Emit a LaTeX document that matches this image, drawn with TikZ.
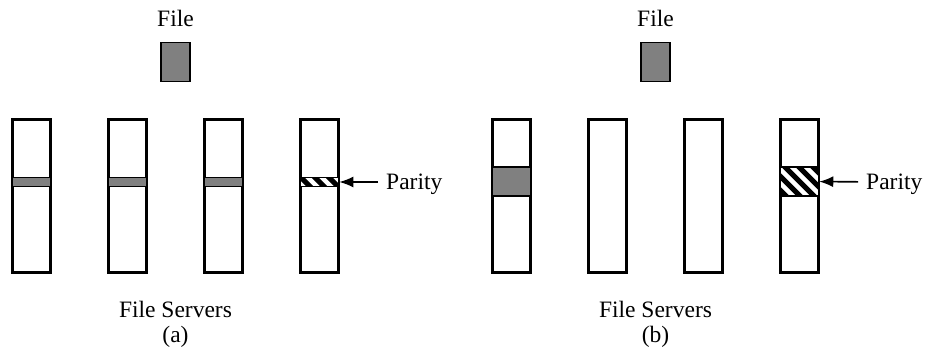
\documentclass[tikz,border=0pt]{standalone}
\usepackage{fontspec}
\setmainfont{Liberation Serif}
\usetikzlibrary{arrows.meta}
\begin{document}
\begin{tikzpicture}[x=1pt,y=-1pt,font=\fontsize{23.5}{25}\selectfont,
server/.style={draw,line width=3pt,minimum width=38pt,minimum height=152pt,inner sep=0pt},
chunk/.style={draw,line width=1.5pt,fill=black!50,inner sep=0pt,minimum width=38pt},
parity/.style={chunk,fill=white,path picture={
\foreach \k in {-6,...,6}
{\draw[line width=5pt] ([xshift=\k*14pt]path picture bounding box.center) ++(-30pt,30pt) -- ++(60pt,-60pt);}}},
label/.style={anchor=west,inner xsep=8pt,inner ysep=0pt,text height=15pt,text depth=0pt},
arr/.style={-{Latex[length=14pt,width=11pt]},line width=1.6pt}]
\useasboundingbox (0,0) rectangle (925,347);
\foreach \S/\N/\T in {0/a/{(a)},480/b/{(b)}}
{\node[anchor=base] (file\N) at (175.5+\S,27) {File};
\node[draw,line width=1.5pt,fill=black!50,minimum width=29pt,minimum height=39pt,inner sep=0pt] (box\N) at (175.5+\S,62) {};
\foreach \Z in {1,...,4}
{\node[server] (\N\Z) at ({31.5+96*(\Z-1)+\S},196) {};}
\node[anchor=base,align=center] (fs\N) at (175.5+\S,342) {File Servers\\\T};}
% (a) file striped over three servers
\foreach \Z in {1,2,3}
{\node[chunk,minimum height=9pt] (ca\Z) at ({31.5+96*(\Z-1)},182) {};}
\node[parity,minimum height=9pt] (pa) at (319.5,182) {};
\node[label] (qa) at (378,182) {Parity};
\draw[arr] (qa) -- (pa);
% (b) whole file on one server
\node[chunk,minimum height=29pt] (cb1) at (511.5,181.5) {};
\node[parity,minimum height=29pt] (pb) at (799.5,181.5) {};
\node[label] (qb) at (858,182) {Parity};
\draw[arr] (qb) -- (pb);
\end{tikzpicture}
\end{document}
